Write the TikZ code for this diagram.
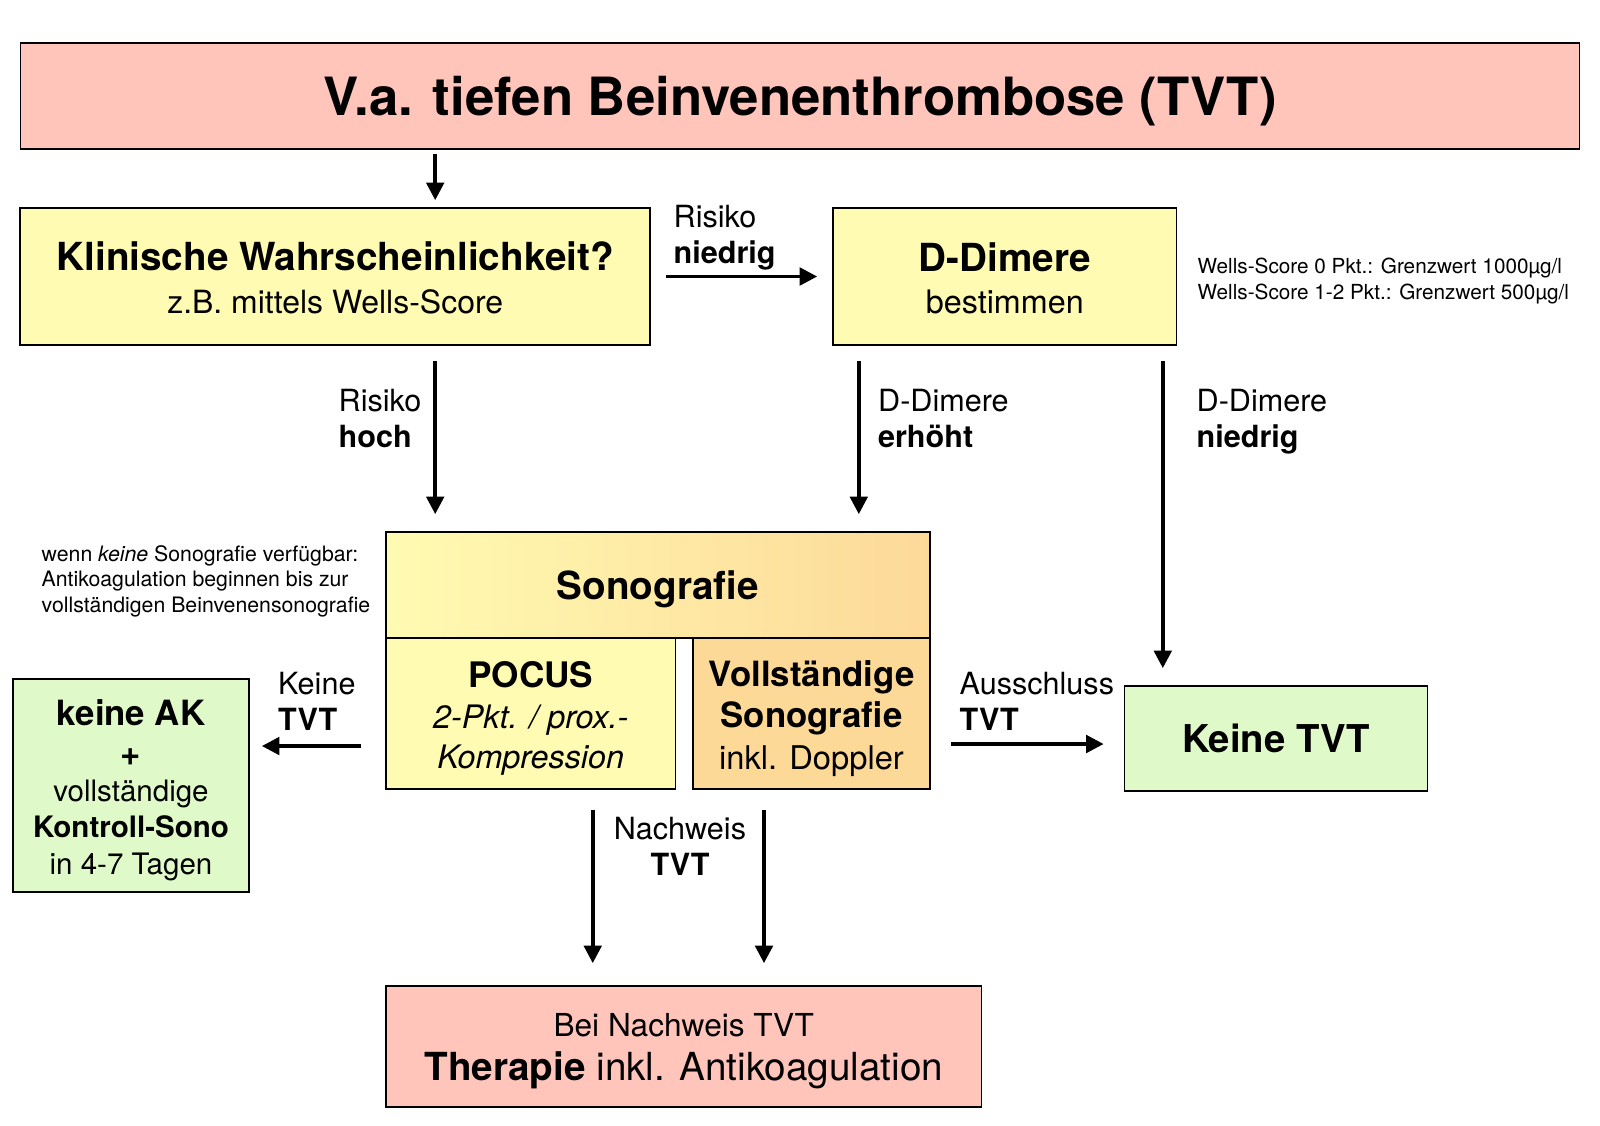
\documentclass[tikz,border=0pt]{standalone}
\usepackage{fontspec}
\setmainfont{TeX Gyre Heros}
\usetikzlibrary{arrows.meta}
\definecolor{tvtpink}{RGB}{255,196,186}
\definecolor{tvtyellow}{RGB}{255,251,178}
\definecolor{tvtorange}{RGB}{253,217,152}
\definecolor{tvtgreen}{RGB}{223,250,200}
\newcommand{\tvtsize}[2]{\fontsize{#1}{#2}\selectfont}
\newcommand{\tvtlift}[1]{\rule{0pt}{#1}}
\begin{document}
\begin{tikzpicture}[
		box/.style={draw=black, line width=0.5pt, align=center, inner sep=0pt},
		arr/.style={line width=1pt, -{Triangle[length=5pt,width=5pt]}},
		lbl/.style={align=left, anchor=west, inner sep=0pt, font=\tvtsize{8.7}{10.3}}
	]
		\useasboundingbox (0,0) rectangle (16,-11.25);
		%draw the boxes
		\node[box, fill=tvtpink, minimum width=15.59cm, minimum height=1.06cm, text depth=0pt, font=\tvtsize{15}{18}\bfseries] (title) at (8.0,-0.96) {V.a. tiefen Beinvenenthrombose (TVT)};
		\node[box, fill=tvtyellow, minimum width=6.3cm, minimum height=1.37cm, font=\tvtsize{11}{12}] (kw) at (3.352,-2.765) {{\bfseries\tvtlift{9pt}Klinische Wahrscheinlichkeit?}\\{\tvtsize{9.1}{12}z.B. mittels Wells-Score}};
		\node[box, fill=tvtyellow, minimum width=3.435cm, minimum height=1.37cm, font=\tvtsize{11}{12}] (dd) at (10.048,-2.765) {{\bfseries\tvtlift{9pt}D-Dimere}\\{\tvtsize{9.2}{12}bestimmen}};
		\node[box, left color=tvtyellow, right color=tvtorange, minimum width=5.44cm, minimum height=1.06cm, text depth=0pt, font=\tvtsize{11}{13}\bfseries] (sono) at (6.58,-5.85) {Sonografie};
		\node[box, fill=tvtyellow, minimum width=2.895cm, minimum height=1.51cm, font=\tvtsize{9.2}{11.5}] (pocus) at (5.3075,-7.135) {{\tvtsize{10}{11.5}\bfseries\tvtlift{10.3pt}POCUS}\\{\itshape 2-Pkt. / prox.-}\\{\itshape Kompression}};
		\node[box, fill=tvtorange, minimum width=2.37cm, minimum height=1.51cm, font=\tvtsize{9.9}{11.8}] (voll) at (8.115,-7.135) {{\bfseries\tvtlift{10.1pt}Vollständige}\\{\bfseries Sonografie}\\{\tvtsize{9.3}{11.8}inkl. Doppler}};
		\node[box, fill=tvtgreen, minimum width=2.36cm, minimum height=2.13cm, font=\tvtsize{8.4}{10.3}] (ak) at (1.31,-7.855) {{\tvtsize{9.9}{12}\bfseries\tvtlift{10pt}keine AK}\\[1pt]{\tvtsize{9.9}{12}\bfseries +}\\vollständige\\{\bfseries Kontroll-Sono}\\in 4-7 Tagen};
		\node[box, fill=tvtgreen, minimum width=3.03cm, minimum height=1.05cm, font=\tvtsize{10.9}{13}\bfseries] (ktvt) at (12.76,-7.385) {Keine TVT};
		\node[box, fill=tvtpink, minimum width=5.955cm, minimum height=1.21cm, font=\tvtsize{11}{12.4}] (ther) at (6.8375,-10.465) {{\tvtsize{9}{12.4}\tvtlift{9.1pt}Bei Nachweis TVT}\\{\bfseries Therapie} inkl. Antikoagulation};
		
		%small notes
		\node[anchor=west, align=left, inner sep=0pt, font=\tvtsize{5.9}{7.3}] (wells) at (11.97,-2.81) {Wells-Score 0 Pkt.: Grenzwert 1000µg/l\\Wells-Score 1-2 Pkt.: Grenzwert 500µg/l};
		\node[anchor=west, align=left, inner sep=0pt, font=\tvtsize{6.05}{7.25}] (note) at (0.41,-5.81) {wenn \textit{keine} Sonografie verfügbar:\\Antikoagulation beginnen bis zur\\vollständigen Beinvenensonografie};
		
		%arrow labels
		\node[lbl] (lrn) at (6.73,-2.375) {Risiko\\\textbf{niedrig}};
		\node[lbl] (lrh) at (3.38,-4.185) {Risiko\\\textbf{hoch}};
		\node[lbl] (lde) at (8.775,-4.185) {D-Dimere\\\textbf{erhöht}};
		\node[lbl] (ldn) at (11.96,-4.215) {D-Dimere\\\textbf{niedrig}};
		\node[lbl] (lkt) at (2.775,-7.01) {Keine\\\textbf{TVT}};
		\node[lbl] (lat) at (9.59,-7.01) {Ausschluss\\\textbf{TVT}};
		\node[lbl, align=center, anchor=center] (lnt) at (6.80,-8.46) {Nachweis\\\textbf{TVT}};
		
		%draw the arrows
		\draw[arr, shorten <=0.04cm, shorten >=0.07cm] ([xshift=1cm]kw.north |- title.south) -- ([xshift=1cm]kw.north);
		\draw[arr, shorten <=0.15cm, shorten >=0.15cm] (kw.east) -- (dd.west);
		\draw[arr, shorten <=0.15cm, shorten >=0.17cm] ([xshift=1cm]kw.south) -- ([xshift=1cm]kw.south |- sono.north);
		\draw[arr, shorten <=0.15cm, shorten >=0.17cm] ([xshift=-1.46cm]dd.south) -- ([xshift=-1.46cm]dd.south |- sono.north);
		\draw[arr, shorten <=0.15cm, shorten >=0.17cm] ([xshift=1.58cm]dd.south) -- ([xshift=1.58cm]dd.south |- ktvt.north);
		\draw[arr, shorten <=0.24cm, shorten >=0.12cm] ([yshift=-0.325cm]pocus.west) -- ([yshift=-0.325cm]pocus.west -| ak.east);
		\draw[arr, shorten <=0.2cm, shorten >=0.2cm] ([yshift=-0.305cm]voll.east) -- ([yshift=-0.305cm]voll.east -| ktvt.west);
		\draw[arr, shorten <=0.2cm, shorten >=0.22cm] ([xshift=0.62cm]pocus.south) -- ([xshift=0.62cm]pocus.south |- ther.north);
		\draw[arr, shorten <=0.2cm, shorten >=0.22cm] ([xshift=-0.475cm]voll.south) -- ([xshift=-0.475cm]voll.south |- ther.north);
		
	\end{tikzpicture}
\end{document}
